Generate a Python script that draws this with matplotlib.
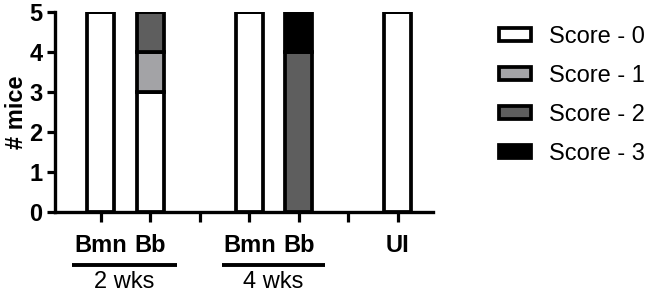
import numpy as np
import matplotlib.pyplot as plt
import matplotlib.transforms as mtransforms
from matplotlib.patches import Patch

plt.rcParams["font.family"] = ["Liberation Sans", "DejaVu Sans"]

positions = [1, 2, 4, 5, 7]
tick_positions = [1, 2, 3, 4, 5, 6, 7]
tick_labels = ["Bmn", "Bb", "", "Bmn", "Bb", "", "UI"]
score_names = ["Score - 0", "Score - 1", "Score - 2", "Score - 3"]
score_colors = ["white", "#a3a3a6", "#5e5e5e", "black"]

# counts per score for Bmn 2wk, Bb 2wk, Bmn 4wk, Bb 4wk, UI
score_0 = [5, 3, 5, 0, 5]
score_1 = [0, 1, 0, 0, 0]
score_2 = [0, 1, 0, 4, 0]
score_3 = [0, 0, 0, 1, 0]
groups = ["2 wks", "4 wks"]
group_spans = [(0.41, 2.54), (3.44, 5.52)]

FS = 17
LW = 2.7

fig = plt.figure(figsize=(6.53, 2.93), dpi=100)
ax = fig.add_axes([0.084, 0.276, 0.579, 0.683])

bottom = np.zeros(len(positions))
for vals, color, name in zip([score_0, score_1, score_2, score_3], score_colors, score_names):
    vals = np.array(vals, dtype=float)
    ax.bar(positions, vals, width=0.55, bottom=bottom, color=color,
           edgecolor="black", linewidth=LW, label=name)
    bottom += vals

ax.set_xlim(0.07, 7.71)
ax.set_ylim(0, 5)
ax.set_yticks(range(6))
ax.set_xticks(tick_positions)
ax.set_xticklabels(tick_labels, fontsize=FS, fontweight="bold")
for lbl in ax.get_yticklabels():
    lbl.set_fontsize(FS)
    lbl.set_fontweight("bold")
ax.tick_params(axis="x", length=7, width=2.3, pad=9)
ax.tick_params(axis="y", length=6, width=2.3, pad=3)
ax.set_ylabel("# mice", fontsize=FS, fontweight="bold", labelpad=1)

for side in ["top", "right"]:
    ax.spines[side].set_visible(False)
for side in ["left", "bottom"]:
    ax.spines[side].set_linewidth(2.4)

trans = mtransforms.blended_transform_factory(ax.transData, ax.transAxes)
for name, (x0, x1) in zip(groups, group_spans):
    ax.plot([x0, x1], [-0.265, -0.265], color="black", linewidth=2.8,
            transform=trans, clip_on=False, solid_capstyle="butt")
    ax.text((x0 + x1) / 2, -0.295, name, transform=trans, ha="center", va="top",
            fontsize=FS)

handles = [Patch(facecolor=c, edgecolor="black", linewidth=LW) for c in score_colors]
fig.legend(handles, score_names, loc="upper left", bbox_to_anchor=(0.732, 0.985),
           frameon=False, fontsize=FS, handlelength=1.35, handleheight=0.5,
           labelspacing=0.72, handletextpad=0.75)

fig.savefig("out.png", dpi=100)
